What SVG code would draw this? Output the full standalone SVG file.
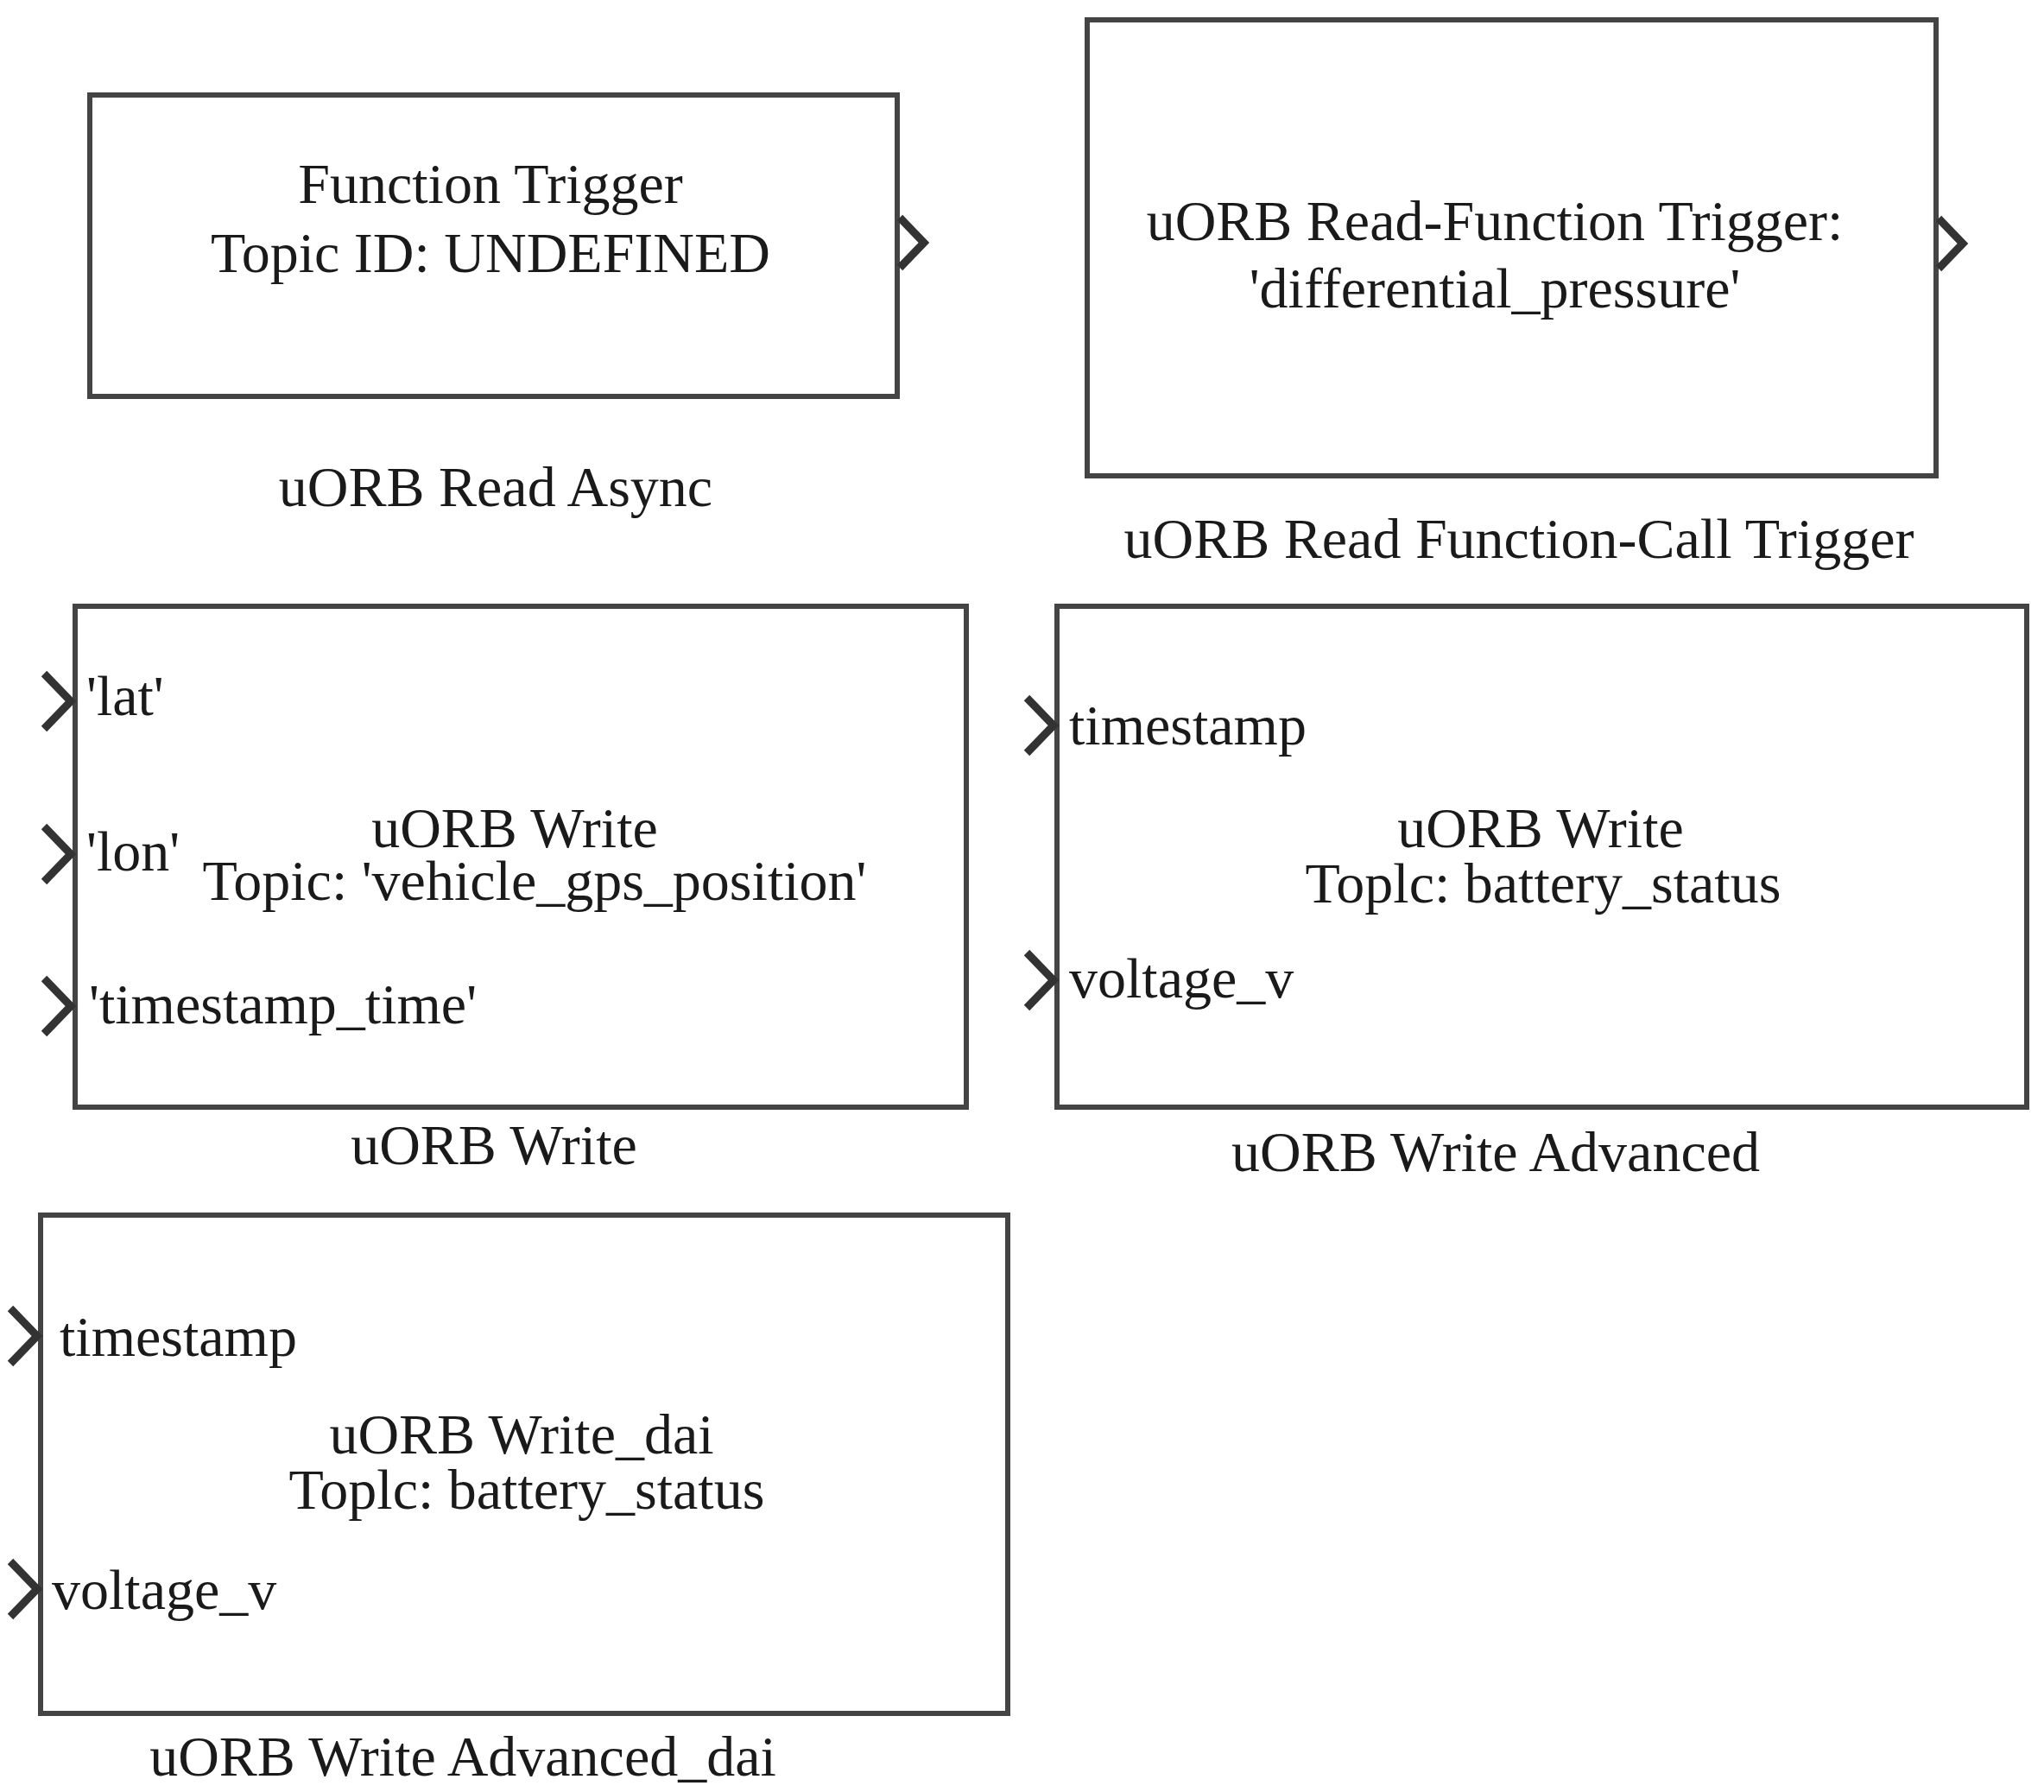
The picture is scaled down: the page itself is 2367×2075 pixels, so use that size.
<svg xmlns="http://www.w3.org/2000/svg" width="2367" height="2075" viewBox="0 0 2367 2075">
<style>
.box{fill:#fff;stroke:#444;stroke-width:6}
.port{fill:none;stroke:#333;stroke-width:9;stroke-linejoin:miter}
text{font-family:"Liberation Serif","Times New Roman",serif;font-size:66px;fill:#1a1a1a}
.c{text-anchor:middle}
</style>
<rect width="2367" height="2075" fill="#fff"/>
<g id="connectors"></g>
<g id="readAsync">
<rect class="box" x="104" y="110" width="935" height="349"/>
<polyline class="port" points="1042,252 1070,281 1042,310"/>
<text class="c" x="568" y="235">Function Trigger</text>
<text class="c" x="568" y="315">Topic ID: UNDEFINED</text>
<text class="c" x="574" y="586">uORB Read Async</text>
</g>
<g id="readFcnTrigger">
<rect class="box" x="1259" y="23" width="983" height="528"/>
<polyline class="port" points="2245,253 2273,282 2245,311"/>
<text class="c" x="1731" y="278">uORB Read-Function Trigger:</text>
<text class="c" x="1731" y="356">'differential_pressure'</text>
<text class="c" x="1759" y="646">uORB Read Function-Call Trigger</text>
</g>
<g id="write">
<rect class="box" x="87" y="702" width="1032" height="580"/>
<polyline class="port" points="51,780 82,812 51,844"/>
<polyline class="port" points="51,957 82,989 51,1021"/>
<polyline class="port" points="51,1133 82,1165 51,1197"/>
<text x="100" y="828">'lat'</text>
<text x="100" y="1008">'lon'</text>
<text x="103" y="1185">'timestamp_time'</text>
<text class="c" x="596" y="981">uORB Write</text>
<text class="c" x="619" y="1042">Topic: 'vehicle_gps_position'</text>
<text class="c" x="572" y="1348">uORB Write</text>
</g>
<g id="writeAdvanced">
<rect class="box" x="1224" y="702" width="1123" height="580"/>
<polyline class="port" points="1189,808 1220,840 1189,872"/>
<polyline class="port" points="1189,1103 1220,1135 1189,1167"/>
<text x="1238" y="862">timestamp</text>
<text x="1238" y="1155">voltage_v</text>
<text class="c" x="1784" y="981">uORB Write</text>
<text class="c" x="1787" y="1045">Toplc: battery_status</text>
<text class="c" x="1732" y="1356">uORB Write Advanced</text>
</g>
<g id="writeAdvancedDai">
<rect class="box" x="47" y="1407" width="1120" height="577"/>
<polyline class="port" points="12,1515 43,1547 12,1579"/>
<polyline class="port" points="12,1808 43,1840 12,1872"/>
<text x="69" y="1570">timestamp</text>
<text x="60" y="1863">voltage_v</text>
<text class="c" x="604" y="1683">uORB Write_dai</text>
<text class="c" x="610" y="1747">Toplc: battery_status</text>
<text class="c" x="536" y="2056">uORB Write Advanced_dai</text>
</g>
</svg>
